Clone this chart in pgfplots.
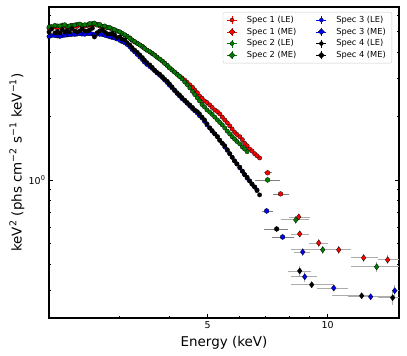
\documentclass[border=0pt]{standalone}
\usepackage{fontspec}
\setmainfont{DejaVu Sans}
\usepackage{pgfplots}
\pgfplotsset{compat=1.18}
\usepackage{pgfplotstable}

\definecolor{cR}{RGB}{255,0,0}
\definecolor{cG}{RGB}{0,128,0}
\definecolor{cB}{RGB}{0,0,255}
\definecolor{cK}{RGB}{0,0,0}

% legend marks: error-bar cross plus marker
\newcommand{\declLeg}[3]{%
\pgfdeclareplotmark{#1}{%
  \pgfsetlinewidth{0.6pt}\pgfsetstrokecolor{#2}%
  \pgfpathmoveto{\pgfqpoint{-5pt}{0pt}}\pgfpathlineto{\pgfqpoint{5pt}{0pt}}%
  \pgfpathmoveto{\pgfqpoint{0pt}{-4pt}}\pgfpathlineto{\pgfqpoint{0pt}{4pt}}%
  \pgfusepathqstroke
  \pgfsetlinewidth{0.3pt}\pgfsetstrokecolor{black}\pgfsetfillcolor{#2}%
  #3%
  \pgfusepathqfillstroke}}
\newcommand{\circpath}{\pgfpathcircle{\pgfpointorigin}{2pt}}
\newcommand{\diampath}{\pgfpathmoveto{\pgfqpoint{0pt}{3pt}}\pgfpathlineto{\pgfqpoint{3pt}{0pt}}\pgfpathlineto{\pgfqpoint{0pt}{-3pt}}\pgfpathlineto{\pgfqpoint{-3pt}{0pt}}\pgfpathclose}
\declLeg{legRLE}{cR}{\circpath}
\declLeg{legRME}{cR}{\diampath}
\declLeg{legGLE}{cG}{\circpath}
\declLeg{legGME}{cG}{\diampath}
\declLeg{legBLE}{cB}{\circpath}
\declLeg{legBME}{cB}{\diampath}
\declLeg{legKLE}{cK}{\circpath}
\declLeg{legKME}{cK}{\diampath}

% dense LE spectra (energy keV, keV^2 flux)
\pgfplotstableread{
x y
2.00 5.21
2.07 5.27
2.13 5.27
2.19 5.33
2.25 5.27
2.32 5.33
2.39 5.38
2.46 5.33
2.53 5.38
2.60 5.44
2.68 5.33
2.76 5.27
2.84 5.21
2.92 5.10
3.01 4.99
3.10 4.83
3.19 4.68
3.28 4.48
3.38 4.34
3.47 4.19
3.58 4.02
3.68 3.89
3.79 3.72
3.90 3.56
4.01 3.38
4.13 3.23
4.25 3.09
4.38 2.96
4.51 2.81
4.64 2.66
4.77 2.49
4.91 2.36
5.06 2.26
5.21 2.14
5.36 2.05
5.52 1.92
5.68 1.80
5.84 1.68
6.02 1.60
6.19 1.49
6.37 1.40
6.56 1.33
6.75 1.27
2.03 5.24
2.10 5.21
2.16 5.30
2.22 5.27
2.28 5.36
2.35 5.30
2.42 5.33
2.50 5.36
2.57 5.40
2.64 5.42
2.72 5.30
2.80 5.24
2.88 5.16
2.96 5.04
3.05 4.90
3.14 4.76
3.23 4.57
3.33 4.42
3.43 4.27
3.52 4.10
3.63 3.96
3.73 3.80
3.85 3.64
3.96 3.47
4.07 3.31
4.19 3.16
4.31 3.03
4.44 2.89
4.58 2.74
4.71 2.58
4.84 2.43
4.98 2.32
5.13 2.20
5.29 2.10
5.44 1.98
5.60 1.86
5.76 1.74
5.92 1.64
6.11 1.55
6.28 1.45
6.46 1.37
6.65 1.30
}\redLE

\pgfplotstableread{
x y
2.03 5.30
2.10 5.33
2.16 5.38
2.22 5.30
2.28 5.36
2.35 5.42
2.42 5.38
2.50 5.40
2.57 5.47
2.64 5.38
2.72 5.30
2.80 5.24
2.88 5.15
2.96 5.05
3.05 4.92
3.14 4.76
3.23 4.58
3.33 4.41
3.43 4.26
3.52 4.10
3.63 3.95
3.73 3.80
3.85 3.64
3.96 3.47
4.07 3.30
4.19 3.15
4.31 3.00
4.44 2.82
4.58 2.62
4.71 2.44
4.84 2.27
4.98 2.14
5.13 2.04
5.29 1.92
5.44 1.82
5.60 1.70
5.76 1.60
5.92 1.52
6.11 1.43
6.28 1.36
2.00 5.27
2.07 5.36
2.13 5.33
2.19 5.40
2.25 5.33
2.32 5.38
2.39 5.44
2.46 5.40
2.53 5.47
2.60 5.50
2.68 5.42
2.76 5.33
2.84 5.24
2.92 5.12
3.01 5.00
3.10 4.84
3.19 4.66
3.28 4.50
3.38 4.33
3.47 4.18
3.58 4.03
3.68 3.88
3.79 3.72
3.90 3.55
4.01 3.38
4.13 3.23
4.25 3.08
4.38 2.90
4.51 2.72
4.64 2.53
4.77 2.36
4.91 2.21
5.06 2.09
5.21 1.98
5.36 1.87
5.52 1.76
5.68 1.65
5.84 1.56
6.02 1.48
6.19 1.40
}\greenLE

\pgfplotstableread{
x y
2.03 4.80
2.10 4.78
2.16 4.80
2.22 4.83
2.28 4.86
2.35 4.88
2.42 4.88
2.50 4.91
2.57 4.88
2.64 4.88
2.72 4.86
2.80 4.78
2.88 4.70
2.96 4.63
3.05 4.50
3.14 4.36
3.23 4.13
3.33 3.91
3.43 3.70
3.52 3.51
3.63 3.36
3.73 3.20
3.85 3.04
3.96 2.88
4.07 2.72
4.19 2.56
4.31 2.42
4.44 2.30
4.58 2.17
4.71 2.07
4.84 1.96
4.98 1.82
5.13 1.70
5.29 1.60
5.44 1.49
5.60 1.38
5.76 1.28
5.92 1.19
6.11 1.10
6.28 1.02
6.46 0.957
6.65 0.897
2.00 4.75
2.07 4.80
2.13 4.76
2.19 4.82
2.25 4.85
2.32 4.86
2.39 4.90
2.46 4.87
2.53 4.90
2.60 4.84
2.68 4.87
2.76 4.82
2.84 4.74
2.92 4.68
3.01 4.56
3.10 4.44
3.19 4.25
3.28 4.02
3.38 3.80
3.47 3.60
3.58 3.43
3.68 3.28
3.79 3.12
3.90 2.96
4.01 2.80
4.13 2.64
4.25 2.49
4.38 2.36
4.51 2.23
4.64 2.12
4.77 2.01
4.91 1.89
5.06 1.76
5.21 1.65
5.36 1.54
5.52 1.43
5.68 1.33
5.84 1.23
6.02 1.14
6.19 1.06
6.37 0.990
6.56 0.925
}\blueLE

\pgfplotstableread{
x y
2.00 4.99
2.07 4.94
2.13 4.94
2.19 4.99
2.25 4.99
2.32 5.05
2.39 5.05
2.46 5.05
2.53 5.10
2.60 4.73
2.68 5.05
2.76 4.99
2.84 4.88
2.92 4.83
3.01 4.73
3.10 4.58
3.19 4.34
3.28 4.10
3.38 3.89
3.47 3.68
3.58 3.49
3.68 3.30
3.79 3.16
3.90 2.99
4.01 2.84
4.13 2.66
4.25 2.52
4.38 2.38
4.51 2.26
4.64 2.14
4.77 2.05
4.91 1.92
5.06 1.76
5.21 1.65
5.36 1.54
5.52 1.45
5.68 1.33
5.84 1.23
6.02 1.15
6.19 1.06
6.37 0.989
6.56 0.927
6.75 0.850
2.03 5.15
2.10 5.02
2.16 5.12
2.22 5.05
2.28 5.18
2.35 5.00
2.42 5.15
2.50 5.05
2.57 5.20
2.64 4.95
2.72 5.12
2.80 4.90
2.88 4.92
2.96 4.70
3.05 4.62
3.14 4.44
3.23 4.22
3.33 4.00
3.43 3.78
3.52 3.58
3.63 3.40
3.73 3.22
3.85 3.07
3.96 2.92
4.07 2.75
4.19 2.58
4.31 2.45
4.44 2.32
4.58 2.20
4.71 2.10
4.84 1.98
4.98 1.84
5.13 1.71
5.29 1.60
5.44 1.49
5.60 1.39
5.76 1.28
5.92 1.19
6.11 1.10
6.28 1.03
6.46 0.955
6.65 0.890
}\blackLE

% sparse points with errors: x y xminus xplus yerr
\pgfplotstableread{
x y xm xp ye
7.07 1.08 0.16 0.17 0.03
7.62 0.859 0.34 0.36 0.02
}\redLEs
\pgfplotstableread{
x y xm xp ye
7.07 1.00 0.51 0.51 0.03
}\greenLEs
\pgfplotstableread{
x y xm xp ye
7.03 0.714 0.20 0.25 0.02
7.71 0.538 0.47 0.51 0.02
}\blueLEs
\pgfplotstableread{
x y xm xp ye
7.45 0.587 0.54 0.49 0.02
}\blackLEs

\pgfplotstableread{
x y xm xp ye
8.46 0.669 0.48 0.55 0.02
8.51 0.556 0.43 0.45 0.02
9.50 0.504 0.54 0.50 0.02
10.66 0.468 0.66 0.76 0.02
12.31 0.429 0.89 1.04 0.02
14.14 0.420 0.79 1.02 0.02
}\redME
\pgfplotstableread{
x y xm xp ye
8.32 0.648 0.70 0.64 0.03
9.72 0.468 1.64 1.64 0.02
13.27 0.389 1.85 1.89 0.02
}\greenME
\pgfplotstableread{
x y xm xp ye
8.66 0.457 0.44 0.35 0.02
8.76 0.349 0.68 0.63 0.02
10.36 0.309 0.97 0.87 0.01
12.82 0.281 1.59 1.65 0.01
14.73 0.300 0.26 0.43 0.02
}\blueME
\pgfplotstableread{
x y xm xp ye
8.51 0.372 0.57 0.55 0.02
9.12 0.320 1.04 1.24 0.01
12.17 0.284 1.93 0.65 0.01
14.56 0.278 1.21 0.60 0.02
}\blackME

\pgfplotsset{
  dense/.style={only marks, mark=*, mark size=2.2pt, mark options={fill=#1, draw=black, line width=0.3pt}, forget plot},
  sparseLE/.style={only marks, mark=*, mark size=2.4pt, mark options={fill=#1, draw=black, line width=0.3pt}, forget plot,
     error bars/.cd, x dir=both, x explicit, y dir=both, y explicit, error mark=none,
     error bar style={gray, line width=0.8pt}},
  sparseME/.style={only marks, mark=diamond*, mark size=3.1pt, mark options={fill=#1, draw=black, line width=0.3pt}, forget plot,
     error bars/.cd, x dir=both, x explicit, y dir=both, y explicit, error mark=none,
     error bar style={gray!65, line width=0.8pt}},
}

\begin{document}
\begin{tikzpicture}
\useasboundingbox (-49bp,-38bp) rectangle (358bp,318bp);
\begin{axis}[
  at={(0,0)}, anchor=south west,
  scale only axis, width=350bp, height=311bp,
  xmode=log, ymode=log,
  xmin=2, xmax=15.1, ymin=0.223, ymax=6.55,
  xtick={5,10}, xticklabels={5,10}, minor xtick={3,4,6,7,8,9},
  ytick={1}, yticklabels={10\textsuperscript{0}},
  minor ytick={0.3,0.4,0.5,0.6,0.7,0.8,0.9,2,3,4,5,6},
  tick align=inside, xtick pos=left, ytick pos=both,
  major tick length=4.5bp, minor tick length=2.5bp,
  axis line style={line width=1.2bp},
  every tick/.style={black, line width=0.8bp},
  tick label style={font=\fontsize{9.5}{11}\selectfont},
  label style={font=\fontsize{13.5}{16}\selectfont},
  xlabel={Energy (keV)},
  ylabel={keV\textsuperscript{2} (phs cm\textsuperscript{−2} s\textsuperscript{−1} keV\textsuperscript{−1})},
  xlabel style={at={(axis description cs:0.5,-0.08)}, anchor=center},
  ylabel style={at={(axis description cs:-0.092,0.5)}, anchor=center},
  legend columns=2,
  legend cell align=left,
  legend style={at={(axis description cs:0.98,0.984)}, anchor=north east,
    draw=black!20, rounded corners=2pt, fill=white,
    font=\fontsize{8.3}{10}\selectfont, inner xsep=4bp, inner ysep=2bp,
    /tikz/column 1/.style={column sep=8bp},
    /tikz/column 2/.style={column sep=18bp},
    /tikz/column 3/.style={column sep=8bp}},
]
\addplot[dense=cR] table {\redLE};
\addplot[sparseLE=cR] table[x=x,y=y,x error minus=xm,x error plus=xp,y error=ye] {\redLEs};
\addplot[sparseME=cR] table[x=x,y=y,x error minus=xm,x error plus=xp,y error=ye] {\redME};
\addplot[dense=cG] table {\greenLE};
\addplot[sparseLE=cG] table[x=x,y=y,x error minus=xm,x error plus=xp,y error=ye] {\greenLEs};
\addplot[sparseME=cG] table[x=x,y=y,x error minus=xm,x error plus=xp,y error=ye] {\greenME};
\addplot[dense=cB] table {\blueLE};
\addplot[sparseLE=cB] table[x=x,y=y,x error minus=xm,x error plus=xp,y error=ye] {\blueLEs};
\addplot[sparseME=cB] table[x=x,y=y,x error minus=xm,x error plus=xp,y error=ye] {\blueME};
\addplot[dense=cK] table {\blackLE};
\addplot[sparseLE=cK] table[x=x,y=y,x error minus=xm,x error plus=xp,y error=ye] {\blackLEs};
\addplot[sparseME=cK] table[x=x,y=y,x error minus=xm,x error plus=xp,y error=ye] {\blackME};

\addlegendimage{only marks, mark=legRLE}\addlegendentry{Spec 1 (LE)}
\addlegendimage{only marks, mark=legBLE}\addlegendentry{Spec 3 (LE)}
\addlegendimage{only marks, mark=legRME}\addlegendentry{Spec 1 (ME)}
\addlegendimage{only marks, mark=legBME}\addlegendentry{Spec 3 (ME)}
\addlegendimage{only marks, mark=legGLE}\addlegendentry{Spec 2 (LE)}
\addlegendimage{only marks, mark=legKLE}\addlegendentry{Spec 4 (LE)}
\addlegendimage{only marks, mark=legGME}\addlegendentry{Spec 2 (ME)}
\addlegendimage{only marks, mark=legKME}\addlegendentry{Spec 4 (ME)}
\end{axis}
\end{tikzpicture}
\end{document}
